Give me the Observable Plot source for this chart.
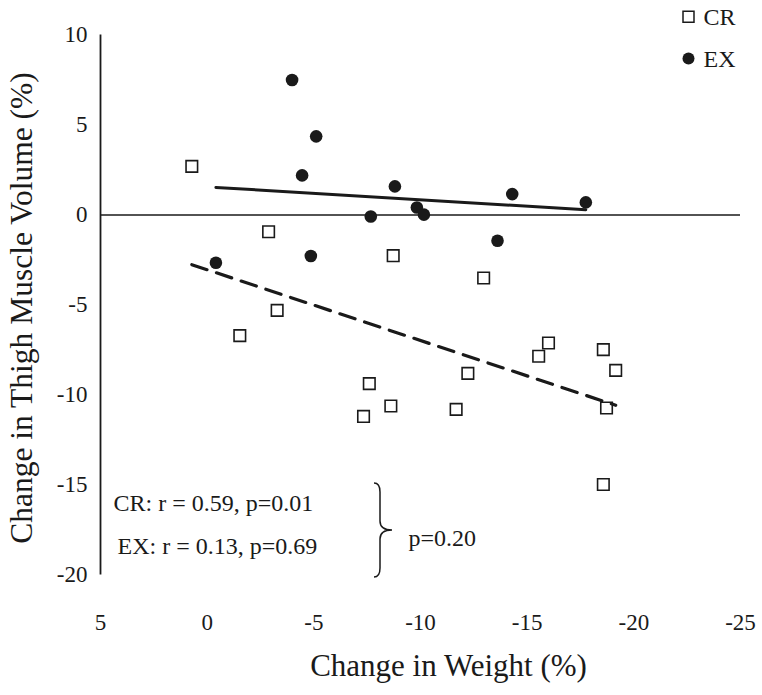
<!DOCTYPE html>
<html>
<head>
<meta charset="utf-8">
<script src="https://cdn.jsdelivr.net/npm/d3@7"></script>
<script src="https://cdn.jsdelivr.net/npm/@observablehq/plot@0.6"></script>
<style>
  html, body { margin: 0; padding: 0; background: #fff; }
  #chart svg { display: block; }
</style>
</head>
<body>
<div id="chart"></div>
<script>
// ---- Data ----
const crWeight = [0.72, -1.53, -2.88, -3.28, -7.33, -7.6, -8.61, -8.72, -11.67, -12.22, -12.96, -15.54, -16.0, -18.57, -18.72, -19.15, -18.57];
const crThigh  = [2.7, -6.7, -0.93, -5.3, -11.19, -9.37, -10.61, -2.26, -10.8, -8.8, -3.5, -7.85, -7.11, -7.48, -10.72, -8.63, -14.97];
const exWeight = [-0.41, -3.98, -4.45, -4.86, -5.11, -7.67, -8.8, -9.83, -10.16, -13.61, -14.3, -17.75];
const exThigh  = [-2.65, 7.5, 2.2, -2.28, 4.37, -0.08, 1.59, 0.42, 0.02, -1.43, 1.16, 0.7];

const xTicks = [5, 0, -5, -10, -15, -20, -25];
const xTickLabels = ["5", "0", "-5", "-10", "-15", "-20", "-25"];
const yTicks = [10, 5, 0, -5, -10, -15, -20];
const yTickLabels = ["10", "5", "0", "-5", "-10", "-15", "-20"];

const groups = ["CR", "EX"];
const statLines = ["CR: r = 0.59, p=0.01", "EX: r = 0.13, p=0.69"];
const pLabel = "p=0.20";
const xTitle = "Change in Weight (%)";
const yTitle = "Change in Thigh Muscle Volume (%)";

// ---- Tables built from arrays ----
const cr = crWeight.map((x, i) => ({x, y: crThigh[i]}));
const ex = exWeight.map((x, i) => ({x, y: exThigh[i]}));

const FONT = "Liberation Serif, Times New Roman, serif";
const INK = "#1a1a1a";

// brace annotation (custom path, positioned relative to frame bottom-left)
function braceMark(index, scales, values, dims) {
  const left = dims.marginLeft;
  const bottom = dims.height - dims.marginBottom;
  const bx = left + 280, top = bottom - 91.5, bot = bottom + 2.5, mid = (top + bot) / 2;
  const hook = 6, tip = 12, r = 9;
  const d = `M${bx - hook},${top} Q${bx},${top} ${bx},${top + r} L${bx},${mid - r} Q${bx},${mid} ${bx + tip},${mid} ` +
            `Q${bx},${mid} ${bx},${mid + r} L${bx},${bot - r} Q${bx},${bot} ${bx - hook},${bot}`;
  const p = document.createElementNS("http://www.w3.org/2000/svg", "path");
  p.setAttribute("d", d);
  p.setAttribute("fill", "none");
  p.setAttribute("stroke", INK);
  p.setAttribute("stroke-width", "1.5");
  return p;
}

const legendMarks = groups.flatMap((g, i) => [
  Plot.dot([g], {frameAnchor: "top-right", dx: -52, dy: -18.2 + i * 41.7,
    symbol: i === 0 ? "square" : "circle", r: i === 0 ? 6.2 : 6,
    fill: i === 0 ? "white" : INK, stroke: INK, strokeWidth: i === 0 ? 1.5 : 0}),
  Plot.text([g], {text: d => d, frameAnchor: "top-right", dx: -37, dy: -10.2 + i * 41.7,
    textAnchor: "start", lineAnchor: "bottom", fontSize: 24, fontFamily: FONT, fill: INK})
]);

const statMarks = statLines.map((s, i) =>
  Plot.text([s], {text: d => d, frameAnchor: "bottom-left", dx: 13 + i * 4, dy: -63.8 + i * 42.3,
    textAnchor: "start", lineAnchor: "bottom", fontSize: 24, fontFamily: FONT, fill: INK})
);

const chart = Plot.plot({
  width: 762,
  height: 695,
  marginLeft: 100,
  marginRight: 22,
  marginTop: 34.5,
  marginBottom: 120.5,
  style: {fontFamily: FONT, background: "white", color: INK},
  x: {domain: [5, -25], label: null},
  y: {domain: [-20, 10], label: null},
  marks: [
    Plot.axisX({ticks: xTicks, tickFormat: d => xTickLabels[xTicks.indexOf(d)], tickSize: 0, tickPadding: 39,
      fontSize: 23, fontFamily: FONT, fill: INK, label: null}),
    Plot.axisY({ticks: yTicks, tickFormat: d => yTickLabels[yTicks.indexOf(d)], tickSize: 0, tickPadding: 13,
      fontSize: 23, fontFamily: FONT, fill: INK, label: null}),
    Plot.ruleX([5], {stroke: INK, strokeWidth: 1.8}),
    Plot.ruleY([0], {stroke: INK, strokeWidth: 1.5}),
    Plot.dot(cr, {x: "x", y: "y", symbol: "square", r: 6.5, fill: "white", stroke: INK, strokeWidth: 1.6}),
    Plot.dot(ex, {x: "x", y: "y", symbol: "circle", r: 6.3, fill: INK}),
    Plot.linearRegressionY(cr, {x: "x", y: "y", ci: 0, stroke: INK, strokeWidth: 3.2, strokeDasharray: "16,10"}),
    Plot.linearRegressionY(ex, {x: "x", y: "y", ci: 0, stroke: INK, strokeWidth: 3}),
    ...legendMarks,
    ...statMarks,
    braceMark,
    Plot.text([pLabel], {text: d => d, frameAnchor: "bottom-left", dx: 308, dy: -29.5,
      textAnchor: "start", lineAnchor: "bottom", fontSize: 24, fontFamily: FONT, fill: INK}),
    Plot.text([xTitle], {text: d => d, frameAnchor: "bottom", dx: 28, dy: 100.5,
      textAnchor: "middle", lineAnchor: "bottom", fontSize: 31, fontFamily: FONT, fill: INK}),
    Plot.text([yTitle], {text: d => d, frameAnchor: "left", rotate: -90, dx: -69, dy: 3,
      textAnchor: "middle", lineAnchor: "bottom", fontSize: 31.5, fontFamily: FONT, fill: INK})
  ]
});
document.getElementById("chart").appendChild(chart);
</script>
</body>
</html>
